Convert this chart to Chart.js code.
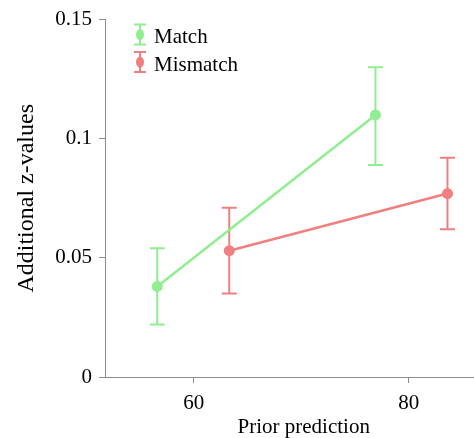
<!DOCTYPE html>
<html>
<head>
<meta charset="utf-8">
<script src="https://cdn.jsdelivr.net/npm/chart.js@4"></script>
<style>
  html, body { margin: 0; padding: 0; background: #fff; overflow: hidden; }
  /* the figure is cropped on the right, so the canvas is wider than the view */
  #wrap { width: 474px; height: 438px; overflow: hidden; }
</style>
</head>
<body>
<div id="wrap"><canvas id="chart" width="508" height="438"></canvas></div>
<script>
// data
const seriesNames = ['Match', 'Mismatch'];
const seriesColors = ['#90EE90', '#F08080'];

const matchX = [56.6, 76.9];
const matchY = [0.038, 0.110];
const matchLow = [0.022, 0.089];
const matchHigh = [0.054, 0.130];

const mismatchX = [63.3, 83.6];
const mismatchY = [0.053, 0.077];
const mismatchLow = [0.035, 0.062];
const mismatchHigh = [0.071, 0.092];

const xTicks = [60, 80];
const yTicks = [0, 0.05, 0.1, 0.15];

const serif = "'Liberation Serif', 'Times New Roman', serif";
const axisGray = '#8c8c8c';

function toPoints(xs, ys, lows, highs) {
    return xs.map((x, i) => ({ x: x, y: ys[i], low: lows[i], high: highs[i] }));
}

// error bars drawn under the points
const errorBars = {
    id: 'errorBars',
    beforeDatasetsDraw(chart) {
        const ctx = chart.ctx;
        const xs = chart.scales.x;
        const ys = chart.scales.y;
        chart.data.datasets.forEach((ds) => {
            ctx.save();
            ctx.strokeStyle = ds.borderColor;
            ctx.lineWidth = 2;
            ds.data.forEach((p) => {
                const px = xs.getPixelForValue(p.x);
                const top = ys.getPixelForValue(p.high);
                const bot = ys.getPixelForValue(p.low);
                ctx.beginPath();
                ctx.moveTo(px, top);
                ctx.lineTo(px, bot);
                ctx.moveTo(px - 7.5, top);
                ctx.lineTo(px + 7.5, top);
                ctx.moveTo(px - 7.5, bot);
                ctx.lineTo(px + 7.5, bot);
                ctx.stroke();
            });
            ctx.restore();
        });
    }
};

// legend with error-bar glyphs, top left inside the plot
const errorLegend = {
    id: 'errorLegend',
    afterDraw(chart) {
        const ctx = chart.ctx;
        const area = chart.chartArea;
        ctx.save();
        chart.data.datasets.forEach((ds, i) => {
            const cx = area.left + 35;
            const cy = area.top + 15 + i * 27.5;
            ctx.strokeStyle = ds.borderColor;
            ctx.fillStyle = ds.borderColor;
            ctx.lineWidth = 2;
            ctx.beginPath();
            ctx.moveTo(cx, cy - 10);
            ctx.lineTo(cx, cy + 10);
            ctx.moveTo(cx - 6, cy - 10);
            ctx.lineTo(cx + 6, cy - 10);
            ctx.moveTo(cx - 6, cy + 10);
            ctx.lineTo(cx + 6, cy + 10);
            ctx.stroke();
            ctx.beginPath();
            ctx.ellipse(cx, cy, 4, 5.5, 0, 0, Math.PI * 2);
            ctx.fill();
            ctx.fillStyle = '#000';
            ctx.font = '21px ' + serif;
            ctx.textAlign = 'left';
            ctx.textBaseline = 'middle';
            ctx.fillText(ds.label, cx + 14, cy + 3);
        });
        ctx.restore();
    }
};

const ctx = document.getElementById('chart').getContext('2d');
const chart = new Chart(ctx, {
    type: 'line',
    data: {
        datasets: [{
            label: seriesNames[0],
            data: toPoints(matchX, matchY, matchLow, matchHigh),
            borderColor: seriesColors[0],
            backgroundColor: seriesColors[0],
            borderWidth: 2.5,
            pointRadius: 5.5,
            pointBorderWidth: 0,
            fill: false,
            tension: 0
        }, {
            label: seriesNames[1],
            data: toPoints(mismatchX, mismatchY, mismatchLow, mismatchHigh),
            borderColor: seriesColors[1],
            backgroundColor: seriesColors[1],
            borderWidth: 2.5,
            pointRadius: 5.5,
            pointBorderWidth: 0,
            fill: false,
            tension: 0
        }]
    },
    options: {
        responsive: false,
        animation: false,
        layout: {
            padding: { top: 17, left: 0, right: 0, bottom: 0 }
        },
        scales: {
            x: {
                type: 'linear',
                min: 51.74,
                max: 88.72,
                afterBuildTicks: (scale) => { scale.ticks = xTicks.map(v => ({ value: v })); },
                afterFit: (scale) => { scale.height = 61; },
                grid: { drawOnChartArea: false, drawTicks: true, tickLength: 6, color: axisGray },
                border: { display: true, color: axisGray, width: 1 },
                ticks: {
                    color: '#000',
                    padding: 8,
                    font: { family: serif, size: 21 },
                    maxRotation: 0,
                    callback: (v) => String(v)
                },
                title: {
                    display: true,
                    text: 'Prior prediction',
                    color: '#000',
                    font: { family: serif, size: 21 },
                    padding: { top: 0, bottom: -2 }
                }
            },
            y: {
                type: 'linear',
                min: 0,
                max: 0.15,
                afterBuildTicks: (scale) => { scale.ticks = yTicks.map(v => ({ value: v })); },
                afterFit: (scale) => { scale.width = 105; },
                grid: { drawOnChartArea: false, drawTicks: true, tickLength: 6, color: axisGray },
                border: { display: true, color: axisGray, width: 1 },
                ticks: {
                    color: '#000',
                    padding: 7,
                    font: { family: serif, size: 21 },
                    callback: (v) => String(v)
                },
                title: {
                    display: true,
                    text: 'Additional z-values',
                    color: '#000',
                    font: { family: serif, size: 24 },
                    padding: { top: 12, bottom: 0 }
                }
            }
        },
        plugins: {
            legend: { display: false },
            tooltip: { enabled: false }
        }
    },
    plugins: [errorBars, errorLegend]
});
</script>
</body>
</html>
